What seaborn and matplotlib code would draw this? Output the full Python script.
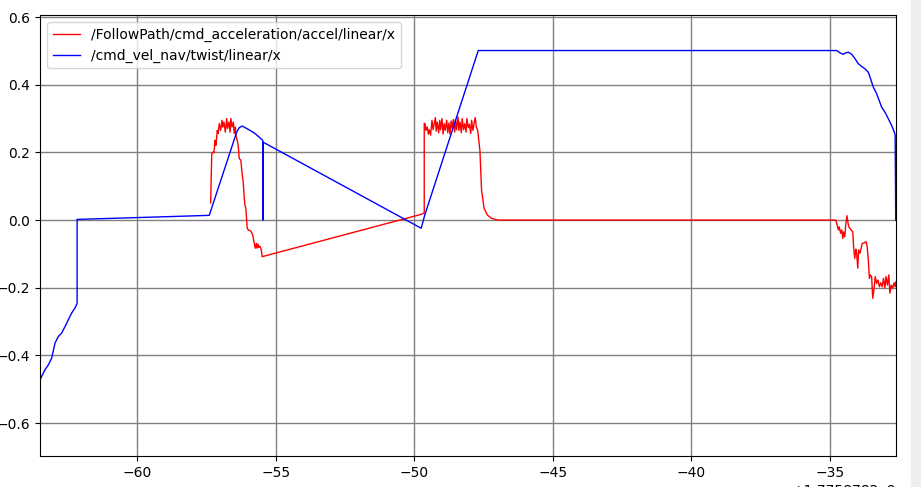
import numpy as np
import pandas as pd
import seaborn as sns
import matplotlib.pyplot as plt
from matplotlib.patches import Rectangle

# time in seconds relative to the offset 1.7758782e9
accel_t = [-57.35, -57.31, -57.26, -57.23, -57.19, -57.16, -57.11, -57.08, -57.04, -56.99,
           -56.94, -56.91, -56.87, -56.82, -56.77, -56.74, -56.69, -56.65, -56.62, -56.58,
           -56.53, -56.50, -56.46, -56.43, -56.39, -56.35, -56.32, -56.26, -56.22, -56.17,
           -56.14, -56.11, -56.08, -56.03, -55.99, -55.90, -55.83, -55.78, -55.74, -55.70,
           -55.68, -55.64, -55.61, -55.57, -55.52, -55.49,
           -49.75, -49.64, -49.64,
           -49.61, -49.58, -49.53, -49.49, -49.46, -49.41, -49.36, -49.32, -49.29, -49.24,
           -49.21, -49.17, -49.12, -49.08, -49.05, -49.00, -48.96, -48.92, -48.88, -48.83,
           -48.79, -48.75, -48.71, -48.67, -48.63, -48.59, -48.54, -48.51, -48.47, -48.42,
           -48.39, -48.35, -48.30, -48.27, -48.22, -48.18, -48.13, -48.10, -48.05, -48.01,
           -47.96, -47.93, -47.88, -47.84, -47.80, -47.76, -47.71,
           -47.63, -47.57, -47.48, -47.36, -47.21, -46.97, -34.78,
           -34.75, -34.69, -34.66, -34.61, -34.57, -34.53, -34.50, -34.46, -34.42, -34.38,
           -34.34, -34.30, -34.23, -34.17, -34.14, -34.10, -34.06, -34.03, -33.99, -33.96,
           -33.91, -33.87, -33.83, -33.75, -33.69, -33.65, -33.61, -33.57, -33.54, -33.49,
           -33.45, -33.40, -33.36, -33.31, -33.26, -33.21, -33.16, -33.11, -33.06, -33.01,
           -32.97, -32.92, -32.87, -32.83, -32.78, -32.73, -32.68, -32.64, -32.61]
accel_x = [0.051, 0.197, 0.201, 0.199, 0.236, 0.221, 0.265, 0.256, 0.285, 0.265,
           0.295, 0.275, 0.290, 0.260, 0.300, 0.271, 0.290, 0.260, 0.300, 0.275,
           0.290, 0.256, 0.275, 0.246, 0.236, 0.216, 0.182, 0.177, 0.142, 0.108,
           0.069, 0.044, 0.035, -0.024, -0.029, -0.032, -0.044, -0.067, -0.083, -0.069,
           -0.083, -0.071, -0.081, -0.077, -0.088, -0.108,
           0.017, 0.021, 0.286,
           0.285, 0.265, 0.275, 0.254, 0.267, 0.251, 0.295, 0.267, 0.280, 0.303,
           0.263, 0.290, 0.258, 0.295, 0.267, 0.300, 0.254, 0.285, 0.265, 0.295,
           0.258, 0.287, 0.254, 0.293, 0.271, 0.297, 0.260, 0.297, 0.267, 0.305,
           0.265, 0.290, 0.258, 0.300, 0.267, 0.285, 0.260, 0.300, 0.273, 0.283,
           0.256, 0.295, 0.265, 0.287, 0.303, 0.275, 0.265,
           0.206, 0.088, 0.035, 0.015, 0.005, 0.0, 0.0,
           -0.010, -0.029, -0.020, -0.039, -0.029, -0.054, -0.035, -0.049, -0.010, 0.013,
           -0.010, -0.022, -0.029, -0.035, -0.079, -0.113, -0.086, -0.098, -0.142, -0.088,
           -0.098, -0.083, -0.069, -0.067, -0.064, -0.079, -0.118, -0.172, -0.162, -0.167,
           -0.231, -0.201, -0.167, -0.187, -0.177, -0.197, -0.185, -0.197, -0.172, -0.201,
           -0.167, -0.192, -0.162, -0.216, -0.192, -0.201, -0.185, -0.197, -0.182]

vel_t = [-63.51, -63.33, -63.21, -63.09, -62.97, -62.85, -62.73, -62.61, -62.49, -62.37,
         -62.25, -62.17, -62.17, -57.40, -56.41, -56.32, -56.21, -55.99, -55.75, -55.47,
         -55.46, -55.45, -49.75, -49.62, -47.69, -34.75, -34.63, -34.51, -34.43, -34.33,
         -34.21, -34.09, -33.97, -33.85, -33.73, -33.61, -33.55, -33.43, -33.31, -33.22,
         -33.13, -33.01, -32.89, -32.77, -32.67, -32.64, -32.62]
vel_x = [-0.472, -0.442, -0.428, -0.408, -0.364, -0.344, -0.334, -0.315, -0.295, -0.275,
         -0.260, -0.246, 0.002, 0.014, 0.260, 0.273, 0.278, 0.268, 0.256, 0.236,
         0.0, 0.230, -0.024, 0.015, 0.501, 0.501, 0.494, 0.490, 0.494, 0.496,
         0.490, 0.477, 0.462, 0.454, 0.447, 0.437, 0.423, 0.393, 0.374, 0.354,
         0.334, 0.319, 0.300, 0.280, 0.260, 0.251, 0.0]

accel_label = '/FollowPath/cmd_acceleration/accel/linear/x'
vel_label = '/cmd_vel_nav/twist/linear/x'
offset_label = '+1.7758782e9'

accel_df = pd.DataFrame({'t': accel_t, 'value': accel_x})
vel_df = pd.DataFrame({'t': vel_t, 'value': vel_x})

fig = plt.figure(figsize=(9.21, 4.87), dpi=100)
ax = fig.add_axes([40 / 921, 31 / 487, 856 / 921, 441 / 487])

sns.lineplot(data=accel_df, x='t', y='value', sort=False, estimator=None,
             color='red', linewidth=1, label=accel_label, ax=ax)
sns.lineplot(data=vel_df, x='t', y='value', sort=False, estimator=None,
             color='blue', linewidth=1, label=vel_label, ax=ax)

ax.set_xlim(-63.51, -32.61)
ax.set_ylim(-0.697, 0.606)
ax.set_xticks([-60, -55, -50, -45, -40, -35])
ax.set_yticks([-0.6, -0.4, -0.2, 0.0, 0.2, 0.4, 0.6])
ax.grid(True, color='gray', linewidth=1)
ax.set_axisbelow(True)
ax.set_xlabel('')
ax.set_ylabel('')
ax.legend(loc='upper left')
ax.text(1.0, -0.064, offset_label, transform=ax.transAxes, ha='right', va='top', fontsize=10)

# grey window strip at the right edge
fig.add_artist(Rectangle((911 / 921, 0), 10 / 921, 1, transform=fig.transFigure,
                         color='#eeeeee', zorder=-1))

fig.savefig('out.png', dpi=100)
